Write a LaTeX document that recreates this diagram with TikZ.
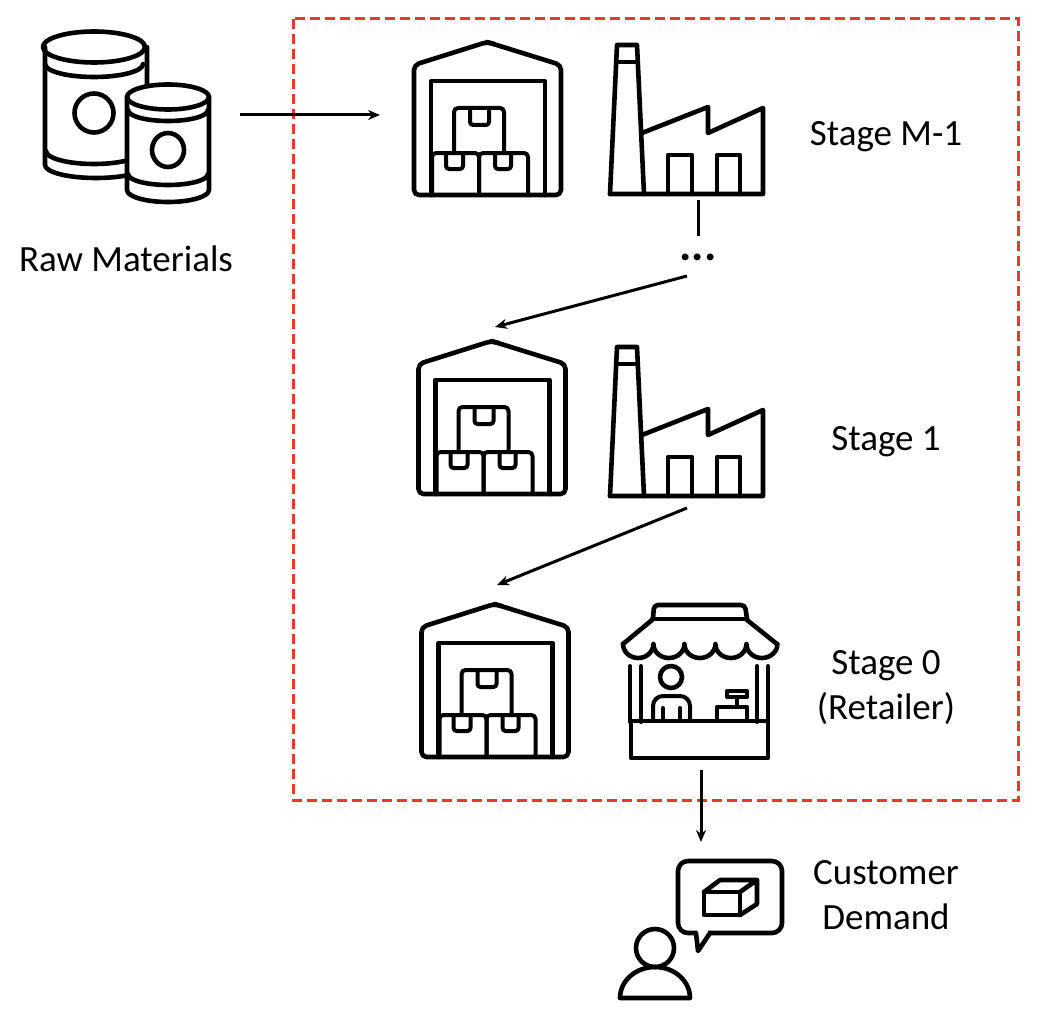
\documentclass[tikz,border=0pt]{standalone}
\usepackage{fontspec}
\setmainfont{Carlito}
\usetikzlibrary{arrows.meta}
\definecolor{dashred}{RGB}{232,58,44}
\tikzset{
  icon/.style={line width=4.6pt,line join=round,line cap=round,draw=black},
  thinicon/.style={line width=4pt,line join=round,line cap=round,draw=black},
  flow/.style={line width=3pt,-{Stealth[length=12pt,width=10pt]}},
  link/.style={line width=3pt},
  frame/.style={draw=dashred,line width=3pt,dash pattern=on 10pt off 5pt},
  label/.style={font=\fontsize{37}{45}\selectfont,align=center,inner sep=0pt,text=black}
}
\newcommand{\warehouseicon}[2]{%
  \begin{scope}[shift={(#1,#2)}]
    \draw[icon,rounded corners=5pt] (487,42) -- (414,65) -- (414,195) -- (561,195) -- (561,65) -- cycle;
    \draw[icon] (487,42) -- (494,44);
    \draw[icon] (431,195) -- (431,81) -- (545,81) -- (545,195);
    \draw[thinicon,rounded corners=4pt] (454,153) -- (454,108) -- (504,108) -- (504,153);
    \draw[thinicon,rounded corners=3pt] (470,108) -- (470,125) -- (489,125) -- (489,108);
    \draw[thinicon,rounded corners=4pt] (432,195) -- (432,153) -- (479,153) -- (479,195);
    \draw[thinicon,rounded corners=3pt] (446,153) -- (446,169) -- (463,169) -- (463,153);
    \draw[thinicon,rounded corners=4pt] (479,195) -- (479,153) -- (528,153) -- (528,195);
    \draw[thinicon,rounded corners=3pt] (495,153) -- (495,169) -- (511,169) -- (511,153);
  \end{scope}}
\newcommand{\factoryicon}[2]{%
  \begin{scope}[shift={(#1,#2)}]
    \draw[icon] (610,194) -- (763,194) -- (763,108) -- (708,133) -- (708,107) -- (642,133);
    \draw[icon] (610,194) -- (617,45) -- (637,45) -- (644,194);
    \draw[thinicon] (616,62) -- (638,62);
    \draw[icon] (668,194) -- (668,155) -- (692,155) -- (692,194);
    \draw[icon] (717,194) -- (717,155) -- (740,155) -- (740,194);
  \end{scope}}
\begin{document}
\begin{tikzpicture}[x=1pt,y=-1pt]
  \useasboundingbox (0,0) rectangle (1038,1022);
  % frame
  \draw[frame] (293,19) rectangle (1018,800);
  % cans
  \draw[icon] (45,47) -- (45,165) arc[start angle=180,end angle=0,x radius=51,y radius=13] -- (147,47);
  \draw[icon] (94,47) ellipse[x radius=51,y radius=15.5];
  \draw[icon] (45,64) arc[start angle=180,end angle=0,x radius=49,y radius=13];
  \draw[icon] (46,151) arc[start angle=180,end angle=0,x radius=48,y radius=13];
  \draw[icon] (94,113) circle[radius=19.5];
  \fill[white] (127,97) -- (127,190) arc[start angle=180,end angle=0,x radius=41,y radius=12] -- (209,97) arc[start angle=0,end angle=-180,x radius=41,y radius=12] -- cycle;
  \fill[white] (125,125) rectangle (160,195);
  \draw[icon] (127,97) -- (127,190) arc[start angle=180,end angle=0,x radius=41,y radius=12] -- (209,97);
  \draw[icon] (168,97) ellipse[x radius=41,y radius=12.5];
  \draw[icon] (128,110) arc[start angle=180,end angle=0,x radius=40,y radius=11];
  \draw[icon] (128,174) arc[start angle=180,end angle=0,x radius=40,y radius=11];
  \draw[icon] (168,150) ellipse[x radius=16,y radius=17];
  \node[label] (raw) at (126,258.5) {Raw Materials};
  % stages
  \warehouseicon{0}{0}
  \factoryicon{0}{0}
  \warehouseicon{4.5}{299}
  \factoryicon{0}{302}
  \warehouseicon{7.5}{562}
  % stall
  \draw[icon,rounded corners=4pt] (653,619) -- (654,605) -- (745,605) -- (747,619);
  \draw[icon] (652,619) -- (747,619);
  \draw[icon] (652,620) -- (623,644);
  \draw[icon] (747,620) -- (777,644);
  \draw[icon] (623,644) arc[start angle=180,end angle=0,x radius=15.2,y radius=14]
    arc[start angle=180,end angle=0,x radius=15.5,y radius=14]
    arc[start angle=180,end angle=0,x radius=15.5,y radius=14]
    arc[start angle=180,end angle=0,x radius=15.5,y radius=14]
    arc[start angle=180,end angle=0,x radius=15.5,y radius=14];
  \draw[thinicon] (630,666) -- (630,722) (641,666) -- (641,722) (757,666) -- (757,722) (768,666) -- (768,722);
  \draw[icon] (631,721) rectangle (768,758);
  \draw[icon] (671,677) circle[radius=11];
  \draw[thinicon,rounded corners=10pt] (653,720) -- (653,696) -- (690,696) -- (690,720);
  \draw[thinicon] (663,708) -- (663,720) (680,708) -- (680,720);
  \draw[thinicon] (717,720) -- (717,707) -- (747,707) -- (747,720);
  \draw[thinicon] (737,707) -- (737,697);
  \draw[thinicon] (727,691) rectangle (747,697);
  \node[label] (smone) at (886,136.5) {Stage M-1};
  \node[label] (sone) at (886,442) {Stage 1};
  \node[label] (szero) at (886,688) {Stage 0\\(Retailer)};
  \node[label] (cust) at (886,895.5) {Customer\\Demand};
  % customer
  \draw[icon,rounded corners=10pt] (678,861) rectangle (782,933);
  \fill[white] (697,930) rectangle (708,936);
  \draw[icon] (696,933) -- (698,951) -- (710,933);
  \draw[icon] (704,892) rectangle (740,915);
  \draw[icon] (704,892) -- (720,880) -- (757,880) -- (740,892) (757,880) -- (757,904) -- (740,915);
  \draw[icon] (655,948) circle[radius=19];
  \draw[icon] (620,998) arc[start angle=180,end angle=360,x radius=35,y radius=31] -- cycle;
  % connectors
  \coordinate (a0) at (240,115);
  \coordinate (a1) at (380,115);
  \coordinate (b0) at (698,200);
  \coordinate (b1) at (698,236);
  \coordinate (c0) at (687,276);
  \coordinate (c1) at (495,327);
  \coordinate (d0) at (687,508);
  \coordinate (d1) at (497,585);
  \coordinate (e0) at (701,770);
  \coordinate (e1) at (701,842);
  \draw[flow] (a0) -- (a1);
  \draw[link] (b0) -- (b1);
  \node[font=\fontsize{46}{46}\selectfont\bfseries,inner sep=0pt] (dots) at (698,257) {...};
  \draw[flow] (c0) -- (c1);
  \draw[flow] (d0) -- (d1);
  \draw[flow] (e0) -- (e1);
\end{tikzpicture}
\end{document}
